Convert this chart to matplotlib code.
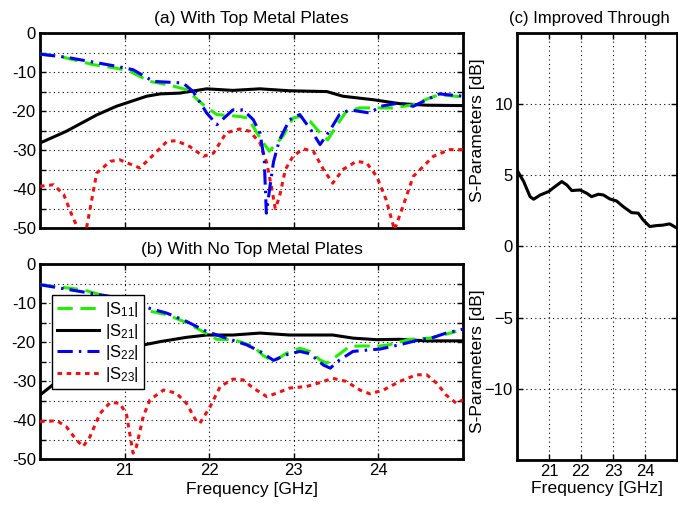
import numpy as np
import matplotlib
matplotlib.use("Agg")
import matplotlib.pyplot as plt

plt.rcParams['font.family'] = ['Liberation Sans', 'DejaVu Sans']
plt.rcParams['mathtext.fontset'] = 'custom'
plt.rcParams['mathtext.rm'] = 'Liberation Sans'
plt.rcParams['mathtext.it'] = 'Liberation Sans'

# ---------------- Panel (a): with top metal plates ----------------
a_s21_f = [20.0, 20.31, 20.67, 20.9, 21.26, 21.42, 21.65, 21.97, 22.28, 22.6, 22.95, 23.39, 23.58, 23.94, 24.25, 24.57, 25.0]
a_s21 = [-28.2, -25.2, -21.0, -18.8, -16.2, -15.6, -15.4, -14.3, -14.7, -14.3, -14.8, -15.0, -16.2, -17.1, -18.1, -18.5, -18.6]

a_s11_f = [20.0, 20.24, 20.63, 20.9, 21.06, 21.3, 21.54, 21.73, 21.93, 22.09, 22.36, 22.46, 22.6, 22.71, 22.87, 22.99, 23.07, 23.19, 23.31, 23.4, 23.5, 23.62, 23.78, 23.98, 24.17, 24.41, 24.6, 24.72, 25.0]
a_s11 = [-5.4, -6.0, -8.1, -9.0, -9.8, -12.4, -13.4, -14.5, -18.4, -20.9, -21.4, -21.8, -26.9, -30.3, -26.5, -21.8, -21.4, -22.6, -25.6, -27.4, -23.9, -20.1, -19.2, -19.2, -19.2, -18.4, -16.7, -15.8, -16.4]

a_s22_f = [20.0, 20.31, 20.9, 21.1, 21.34, 21.69, 21.81, 21.97, 22.09, 22.28, 22.4, 22.52, 22.6, 22.65, 22.675, 22.72, 22.76, 22.83, 22.95, 23.07, 23.2, 23.31, 23.43, 23.54, 23.66, 23.9, 24.02, 24.25, 24.41, 24.57, 24.72, 25.0]
a_s22 = [-5.4, -6.2, -8.5, -9.4, -12.4, -12.8, -15.0, -20.5, -23.5, -19.7, -19.7, -22.2, -25.6, -32.5, -46.2, -39.0, -33.0, -27.4, -22.2, -20.9, -24.8, -28.6, -24.8, -20.9, -19.7, -20.5, -18.8, -17.9, -18.8, -17.1, -15.6, -16.2]

a_s23_f = [20.0, 20.16, 20.28, 20.39, 20.47, 20.51, 20.55, 20.67, 20.83, 20.94, 21.18, 21.3, 21.5, 21.61, 21.77, 21.93, 22.05, 22.2, 22.36, 22.48, 22.6, 22.68, 22.74, 22.78, 22.83, 22.9, 22.99, 23.11, 23.23, 23.35, 23.46, 23.58, 23.74, 23.86, 23.98, 24.09, 24.19, 24.29, 24.41, 24.65, 24.84, 25.0]
a_s23 = [-39.3, -38.9, -41.4, -47.4, -51.0, -52.0, -50.0, -35.9, -32.9, -32.5, -34.6, -32.1, -27.8, -27.6, -29.1, -31.6, -30.8, -25.6, -24.6, -25.2, -28.2, -33.3, -40.0, -45.0, -42.0, -35.0, -31.6, -29.7, -30.3, -35.0, -38.5, -35.0, -32.9, -33.3, -36.8, -42.7, -50.5, -44.4, -36.8, -31.6, -29.9, -29.9]

# ---------------- Panel (b): with no top metal plates ----------------
b_s21_f = [20.0, 20.15, 20.4, 20.7, 21.0, 21.14, 21.42, 21.73, 21.97, 22.28, 22.6, 22.95, 23.46, 23.7, 23.98, 24.25, 24.57, 25.0]
b_s21 = [-33.6, -31.0, -27.5, -24.0, -22.0, -21.1, -19.9, -18.8, -18.2, -18.2, -17.7, -18.2, -18.2, -19.0, -19.4, -19.3, -19.7, -19.7]

b_s11_f = [20.0, 20.51, 20.9, 21.22, 21.5, 21.73, 21.89, 22.09, 22.28, 22.36, 22.52, 22.64, 22.76, 22.91, 23.07, 23.19, 23.31, 23.39, 23.5, 23.66, 23.82, 23.98, 24.13, 24.37, 24.61, 24.76, 24.92]
b_s11 = [-5.3, -6.6, -9.0, -11.7, -13.0, -15.0, -16.9, -19.3, -19.4, -19.9, -21.1, -23.5, -25.0, -22.9, -21.6, -22.4, -24.6, -25.4, -23.7, -21.1, -21.0, -21.1, -20.7, -19.3, -19.0, -18.2, -17.3]

b_s22_f = [20.0, 20.55, 20.83, 21.22, 21.5, 21.73, 21.97, 22.2, 22.44, 22.6, 22.76, 22.91, 23.07, 23.19, 23.35, 23.43, 23.54, 23.7, 23.9, 24.02, 24.25, 24.49, 24.65, 24.8, 25.0]
b_s22 = [-5.3, -7.3, -8.3, -10.9, -12.6, -14.7, -17.3, -19.0, -20.7, -22.4, -24.7, -23.3, -22.4, -23.0, -25.9, -26.7, -24.6, -22.4, -22.0, -21.8, -20.7, -19.4, -18.8, -17.7, -16.7]

b_s23_f = [20.0, 20.2, 20.31, 20.43, 20.51, 20.59, 20.71, 20.83, 20.94, 21.02, 21.1, 21.14, 21.22, 21.3, 21.46, 21.61, 21.73, 21.85, 21.89, 22.01, 22.13, 22.28, 22.4, 22.52, 22.68, 22.8, 22.95, 23.15, 23.31, 23.46, 23.62, 23.78, 23.9, 24.06, 24.25, 24.45, 24.57, 24.69, 24.8, 24.92, 25.0]
b_s23 = [-40.4, -40.2, -41.7, -45.1, -46.8, -44.3, -38.3, -35.5, -35.7, -38.3, -48.5, -46.8, -39.1, -34.8, -32.3, -33.1, -35.7, -40.4, -40.8, -36.6, -31.4, -29.5, -29.7, -31.8, -34.0, -33.1, -31.8, -31.4, -30.4, -29.3, -30.1, -32.3, -33.3, -32.3, -30.1, -28.4, -28.4, -30.6, -33.6, -35.7, -34.8]

# ---------------- Panel (c): improved through ----------------
c_f = [20.0, 20.21, 20.41, 20.52, 20.73, 20.99, 21.19, 21.4, 21.56, 21.71, 21.97, 22.18, 22.33, 22.54, 22.7, 22.9, 23.11, 23.32, 23.58, 23.79, 23.94, 24.15, 24.36, 24.56, 24.77, 25.0]
c_val = [5.37, 4.56, 3.5, 3.32, 3.62, 3.86, 4.21, 4.56, 4.32, 3.93, 3.97, 3.74, 3.5, 3.67, 3.62, 3.34, 3.2, 2.8, 2.38, 2.34, 1.87, 1.4, 1.47, 1.5, 1.59, 1.29]

x_ticks = [21, 22, 23, 24]
y_ticks_c = [-10, -5, 0, 5, 10]
labels = ['|S$_{11}$|', '|S$_{21}$|', '|S$_{22}$|', '|S$_{23}$|']

FS = 12
FST = 12.6
LW = 2.2
green = '#22ee00'
blue = '#0000ee'
red = '#ee1111'

fig = plt.figure(figsize=(6.78, 5.05), dpi=100)
ax_a = fig.add_axes([0.059, 0.5485, 0.624, 0.386])
ax_b = fig.add_axes([0.059, 0.0911, 0.624, 0.386])
ax_c = fig.add_axes([0.7625, 0.0891, 0.236, 0.8456])


def style(ax):
    for s in ax.spines.values():
        s.set_linewidth(2)
        s.set_color('black')
    ax.tick_params(direction='in', top=True, right=True, length=4, width=1,
                   labelsize=FS, pad=3)
    ax.grid(True, which='major', linestyle=(0, (1, 3)), color='black', linewidth=0.8)
    ax.set_xlim(20, 25)
    ax.set_xticks(x_ticks)


for ax, data in ((ax_a, (a_s11_f, a_s11, a_s21_f, a_s21, a_s22_f, a_s22, a_s23_f, a_s23)),
                 (ax_b, (b_s11_f, b_s11, b_s21_f, b_s21, b_s22_f, b_s22, b_s23_f, b_s23))):
    f11, s11, f21, s21, f22, s22, f23, s23 = data
    ax.plot(f11, s11, color=green, lw=LW, linestyle=(0, (5, 2.5)), label=labels[0], zorder=3)
    ax.plot(f21, s21, color='black', lw=LW, linestyle='-', label=labels[1], zorder=2)
    ax.plot(f22, s22, color=blue, lw=LW, linestyle=(0, (5, 2, 0.8, 2)), label=labels[2], zorder=4)
    ax.plot(f23, s23, color=red, lw=LW, linestyle=(0, (1.5, 1.5)), label=labels[3], zorder=3)
    style(ax)
    ax.set_ylim(-50, 0)
    ax.set_yticks(np.arange(-50, 1, 5))
    ax.set_yticklabels([str(int(v)) if v % 10 == 0 else '' for v in np.arange(-50, 1, 5)])

ax_a.set_xticklabels([])
ax_b.set_xticklabels([str(t) for t in x_ticks])
ax_b.set_xlabel('Frequency [GHz]', fontsize=FST, labelpad=3)

ax_a.set_title('(a) With Top Metal Plates', fontsize=FST, pad=7)
ax_b.set_title('(b) With No Top Metal Plates', fontsize=FST, pad=7)

leg = ax_b.legend(loc='upper left', bbox_to_anchor=(0.028, 0.841), borderaxespad=0,
                  fontsize=FS, frameon=True, fancybox=False, framealpha=1,
                  handlelength=2.5, handletextpad=0.4, labelspacing=0.15, borderpad=0.3)
leg.get_frame().set_edgecolor('black')
leg.get_frame().set_linewidth(1.0)
leg.set_zorder(10)

ax_c.plot(c_f, c_val, color='black', lw=LW)
style(ax_c)
ax_c.set_ylim(-15, 15)
ax_c.set_yticks(y_ticks_c)
ax_c.set_xticklabels([str(t) for t in x_ticks])
ax_c.set_xlabel('Frequency [GHz]', fontsize=FST, labelpad=1)
ax_c.set_title('(c) Improved Through', fontsize=FS, pad=7, x=0.45)

fig.text(0.705, 0.742, 'S-Parameters [dB]', rotation=90, fontsize=FST, ha='center', va='center')
fig.text(0.705, 0.285, 'S-Parameters [dB]', rotation=90, fontsize=FST, ha='center', va='center')

fig.savefig('out.png', dpi=100)
